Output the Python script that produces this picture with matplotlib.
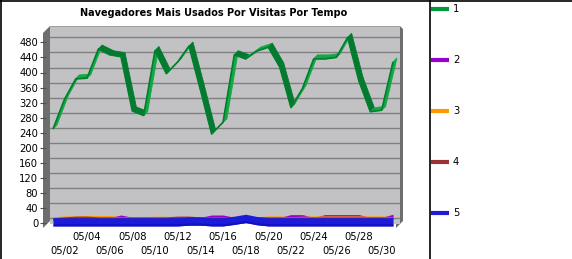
import matplotlib
matplotlib.use("Agg")
import matplotlib.pyplot as plt
from matplotlib.patches import Polygon
from matplotlib.lines import Line2D
import numpy as np

# ---------------- data ----------------
days = list(range(1, 32))
tick_labels = {d: "05/%02d" % d for d in range(2, 31, 2)}
series_names = ["1", "2", "3", "4", "5"]
s1 = [250, 328, 383, 385, 462, 447, 442, 298, 286, 458, 397, 428, 470, 355, 237, 268, 447, 436, 457, 467, 415, 307, 357, 436, 436, 440, 493, 377, 296, 300, 428]
s2 = [12, 12, 12, 12, 12, 12, 18, 12, 12, 12, 12, 12, 12, 12, 18, 18, 12, 12, 12, 12, 12, 19, 19, 12, 19, 19, 19, 19, 12, 12, 20]
s3 = [14, 17, 17, 18, 18, 18, 15, 15, 15, 16, 16, 15, 15, 14, 14, 14, 14, 14, 14, 17, 17, 15, 16, 17, 17, 17, 17, 17, 17, 17, 15]
s4 = [13, 15, 17, 17, 15, 15, 15, 15, 15, 15, 15, 17, 17, 15, 15, 15, 15, 15, 15, 15, 15, 15, 15, 15, 15, 15, 15, 15, 15, 15, 15]
s5 = [4, 4, 4, 4, 4, 4, 4, 4, 4, 4, 4, 4, 6, 6, 4, 4, 8, 13, 7, 4, 4, 4, 4, 4, 4, 4, 4, 4, 4, 4, 4]
colors = ["#009a3a", "#9900cc", "#ff9900", "#993333", "#1c1cd8"]
yticks = list(range(0, 481, 40))

W, H = 572, 259
fig = plt.figure(figsize=(W / 100, H / 100), dpi=100)
fig.patch.set_facecolor("white")

def fr(x0, y0, x1, y1):
    # pixel box (top-left origin) -> figure fraction rect
    return [x0 / W, 1 - y1 / H, (x1 - x0) / W, (y1 - y0) / H]

# background / decoration axes in pixel units
bg = fig.add_axes([0, 0, 1, 1], zorder=0)
bg.set_xlim(0, W)
bg.set_ylim(H, 0)
bg.axis("off")

# back wall with gridlines
PXV = 0.377  # pixels per unit
wall_top, wall_bot, zero_back = 27, 224, 218.3
wall = fig.add_axes(fr(50, wall_top, 400, wall_bot), zorder=1)
wall.set_facecolor("#c2c1c4")
wall.set_ylim(-(wall_bot - zero_back) / PXV, (zero_back - wall_top) / PXV)
wall.set_xlim(0, 1)
wall.set_yticks(yticks)
wall.set_xticks([])
wall.tick_params(left=False, labelleft=False)
wall.grid(axis="y", color="#808080", lw=1.0)
for s in wall.spines.values():
    s.set_visible(False)

# left wall and right edge
bg.add_patch(Polygon([(43, 33), (50, 26), (50, 221), (43, 228)], closed=True,
                     facecolor="#6e6e6e", edgecolor="none"))
bg.add_patch(Polygon([(50, 26), (400, 26), (400, 27.5), (50, 27.5)], closed=True,
                     facecolor="#a0a0a0", edgecolor="none"))
bg.add_patch(Polygon([(400, 26), (403, 29), (403, 221), (396, 228), (396, 224), (400, 220)],
                     closed=True, facecolor="#6e6e6e", edgecolor="none"))

# borders
bg.plot([0, W], [0.5, 0.5], color="black", lw=1.2)
bg.plot([0.5, 0.5], [0, H], color="black", lw=1.2)
bg.plot([429.5, 429.5], [0, H], color="black", lw=1.2)

# data axes (front plane)
x0p, x1p, y0p, y1p = 43, 403, 27, 229
ax = fig.add_axes(fr(x0p, y0p, x1p, y1p), zorder=2)
ax.patch.set_alpha(0)
PXD = 11.333  # pixels per day
ax.set_xlim(1 - (53 - x0p) / PXD, 31 + (x1p - 393) / PXD)
ax.set_ylim(-(y1p - 223.3) / PXV, (223.3 - y0p) / PXV)
for s in ax.spines.values():
    s.set_visible(False)

dxd = 4 / PXD
dyd = 4 / PXV

x = np.array(days, dtype=float)

def ribbon(vals, up_col, down_col, edge_col, z):
    v = np.array(vals, dtype=float)
    for i in range(len(v) - 1):
        quad = [(x[i], v[i]), (x[i + 1], v[i + 1]),
                (x[i + 1] + dxd, v[i + 1] + dyd), (x[i] + dxd, v[i] + dyd)]
        c = up_col if v[i + 1] >= v[i] else down_col
        ax.add_patch(Polygon(quad, closed=True, facecolor=c, edgecolor=c, lw=0.6, zorder=z))
    ax.plot(x, v, color=edge_col, lw=1.2, zorder=z + 0.1, solid_capstyle="butt")

ribbon(s1, "#14a844", "#047a30", "#00802c", 3)

# small series drawn as bands
def band(vals, col, lo_px, hi_px, z):
    v = np.array(vals, dtype=float)
    ax.fill_between(x + 0.0, v - lo_px / PXV, v + hi_px / PXV, color=col, lw=0, zorder=z)

band(s2, colors[1], 2, 1.5, 4)
band(s3, colors[2], 2, 1.0, 4.2)
band(s4, colors[3], 2, 0.8, 4.4)
ax.fill_between(x, np.array(s5) - 11, np.array(s5) + 11, color=colors[4], lw=0, zorder=5)
ax.fill_between(x, np.array(s5) - 11, np.array(s5) - 5, color="#1010c8", lw=0, zorder=5.1)

# ticks
ax.set_yticks(yticks)
ax.set_yticklabels([str(t) for t in yticks])
ax.tick_params(axis="y", length=4, width=0.8, color="#505050", direction="inout", pad=1.5,
               labelsize=7.2)
major = [d for d in tick_labels if d % 4 == 0]
minor = [d for d in tick_labels if d % 4 == 2]
ax.set_xticks(major)
ax.set_xticklabels([tick_labels[d] for d in major])
ax.set_xticks(minor, minor=True)
ax.set_xticklabels([tick_labels[d] for d in minor], minor=True)
ax.tick_params(axis="x", which="major", length=0, pad=2.0, labelsize=7.2)
ax.tick_params(axis="x", which="minor", length=0, pad=12.0, labelsize=7.2)

# title
fig.text(214 / W, 1 - 13 / H, "Navegadores Mais Usados Por Visitas Por Tempo",
         ha="center", va="center", fontsize=7.0, fontweight="bold")

# legend
leg_y = [9, 60, 111, 162, 213]
for name, col, yy in zip(series_names, colors, leg_y):
    bg.add_line(Line2D([431, 449], [yy, yy], color=col, lw=3.0, solid_capstyle="butt"))
    bg.text(453, yy, name, ha="left", va="center", fontsize=7.2)

fig.savefig("out.png", dpi=100)
